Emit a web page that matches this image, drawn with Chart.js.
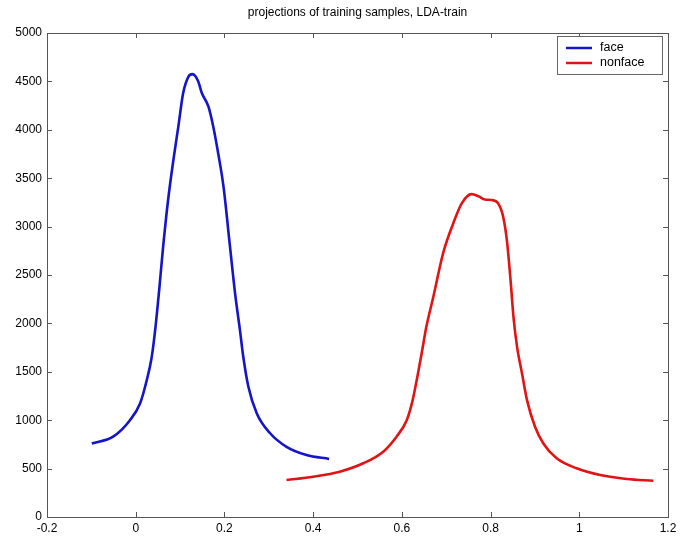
<!DOCTYPE html>
<html>
<head>
<meta charset="utf-8">
<script src="https://cdn.jsdelivr.net/npm/chart.js@4/dist/chart.umd.min.js"></script>
<style>
  html, body { margin: 0; padding: 0; background: #fff; }
  #wrap { width: 681px; height: 542px; }
</style>
</head>
<body>
<div id="wrap"><canvas id="c" width="681" height="542"></canvas></div>
<script>
// Projection histograms of the two training classes
const faceX = [-0.099, -0.051, -0.013, 0.010, 0.025, 0.036, 0.045, 0.053, 0.062, 0.073, 0.085, 0.096, 0.107, 0.119, 0.128, 0.141, 0.149, 0.164, 0.175, 0.186, 0.198, 0.2125, 0.224, 0.235, 0.2425, 0.254, 0.273, 0.303, 0.340, 0.385, 0.436];
const faceY = [760, 830, 1000, 1175, 1415, 1650, 1980, 2350, 2800, 3275, 3690, 4030, 4380, 4550, 4575, 4500, 4380, 4240, 4030, 3755, 3410, 2795, 2310, 1930, 1655, 1345, 1070, 865, 725, 640, 600];

const nonfaceX = [0.340, 0.400, 0.460, 0.513, 0.558, 0.588, 0.611, 0.624, 0.635, 0.645, 0.655, 0.671, 0.693, 0.716, 0.735, 0.757, 0.772, 0.787, 0.802, 0.817, 0.8285, 0.837, 0.845, 0.852, 0.860, 0.871, 0.882, 0.900, 0.919, 0.949, 0.994, 1.047, 1.107, 1.167];
const nonfaceY = [382, 416, 468, 555, 675, 830, 1000, 1200, 1450, 1700, 1960, 2275, 2725, 3035, 3240, 3335, 3315, 3280, 3275, 3240, 3100, 2850, 2450, 2050, 1750, 1480, 1210, 935, 760, 606, 503, 434, 393, 375];

const xTicks = [-0.2, 0, 0.2, 0.4, 0.6, 0.8, 1, 1.2];
const yTicks = [0, 500, 1000, 1500, 2000, 2500, 3000, 3500, 4000, 4500, 5000];

const seriesNames = ['face', 'nonface'];
const seriesColors = ['#1414c8', '#e01414'];
const titleText = 'projections of training samples, LDA-train';

const FONT = '"Liberation Sans", Arial, sans-serif';

function toPoints(xs, ys) { return xs.map((x, i) => ({ x: x, y: ys[i] })); }

// Box frame with inward ticks on all four sides, title and legend
const framePlugin = {
  id: 'frame',
  afterDraw(chart) {
    const ctx = chart.ctx;
    const a = chart.chartArea;
    const xs = chart.scales.x, ys = chart.scales.y;
    ctx.save();
    ctx.strokeStyle = '#555';
    ctx.lineWidth = 1;
    ctx.strokeRect(Math.round(a.left) + 0.5, Math.round(a.top) + 0.5,
                   Math.round(a.right - a.left), Math.round(a.bottom - a.top));
    const tl = 5;
    ctx.beginPath();
    xTicks.forEach(v => {
      const px = Math.round(xs.getPixelForValue(v)) + 0.5;
      ctx.moveTo(px, a.bottom); ctx.lineTo(px, a.bottom - tl);
      ctx.moveTo(px, a.top); ctx.lineTo(px, a.top + tl);
    });
    yTicks.forEach(v => {
      const py = Math.round(ys.getPixelForValue(v)) + 0.5;
      ctx.moveTo(a.left, py); ctx.lineTo(a.left + tl, py);
      ctx.moveTo(a.right, py); ctx.lineTo(a.right - tl, py);
    });
    ctx.stroke();

    // title
    ctx.fillStyle = '#000';
    ctx.font = '12px ' + FONT;
    ctx.textAlign = 'center';
    ctx.textBaseline = 'middle';
    ctx.fillText(titleText, (a.left + a.right) / 2, 13);

    // legend
    const bx = 557.5, by = 36.5, bw = 105, bh = 38;
    ctx.fillStyle = '#fff';
    ctx.fillRect(bx, by, bw, bh);
    ctx.strokeStyle = '#666';
    ctx.strokeRect(bx, by, bw, bh);
    ctx.textAlign = 'left';
    ctx.font = '12.5px ' + FONT;
    seriesNames.forEach((name, i) => {
      const ry = 48 + i * 15;
      ctx.strokeStyle = seriesColors[i];
      ctx.lineWidth = 2.5;
      ctx.beginPath();
      ctx.moveTo(566, ry); ctx.lineTo(592, ry);
      ctx.stroke();
      ctx.fillStyle = '#000';
      ctx.fillText(name, 600, ry);
    });
    ctx.restore();
  }
};

new Chart(document.getElementById('c'), {
  type: 'scatter',
  data: {
    datasets: [
      { label: seriesNames[0], data: toPoints(faceX, faceY), showLine: true,
        borderColor: seriesColors[0], borderWidth: 2.6, pointRadius: 0,
        cubicInterpolationMode: 'monotone', fill: false },
      { label: seriesNames[1], data: toPoints(nonfaceX, nonfaceY), showLine: true,
        borderColor: seriesColors[1], borderWidth: 2.6, pointRadius: 0,
        cubicInterpolationMode: 'monotone', fill: false }
    ]
  },
  options: {
    responsive: false,
    animation: false,
    layout: { padding: { top: 33, right: 13, left: 0, bottom: 0 } },
    plugins: { legend: { display: false }, title: { display: false }, tooltip: { enabled: false } },
    scales: {
      x: {
        type: 'linear', min: -0.2, max: 1.2,
        afterBuildTicks: s => { s.ticks = xTicks.map(v => ({ value: v })); },
        afterFit: s => { s.height = 25; },
        grid: { display: false, drawTicks: false },
        border: { display: false },
        ticks: { color: '#000', font: { family: FONT, size: 12 }, padding: 4,
                 maxRotation: 0, autoSkip: false,
                 callback: v => String(Number(v.toFixed(1))) }
      },
      y: {
        type: 'linear', min: 0, max: 5000,
        afterBuildTicks: s => { s.ticks = yTicks.map(v => ({ value: v })); },
        afterFit: s => { s.width = 47; },
        grid: { display: false, drawTicks: false },
        border: { display: false },
        ticks: { color: '#000', font: { family: FONT, size: 12 }, padding: 5,
                 autoSkip: false, callback: v => String(v) }
      }
    }
  },
  plugins: [framePlugin]
});
</script>
</body>
</html>
